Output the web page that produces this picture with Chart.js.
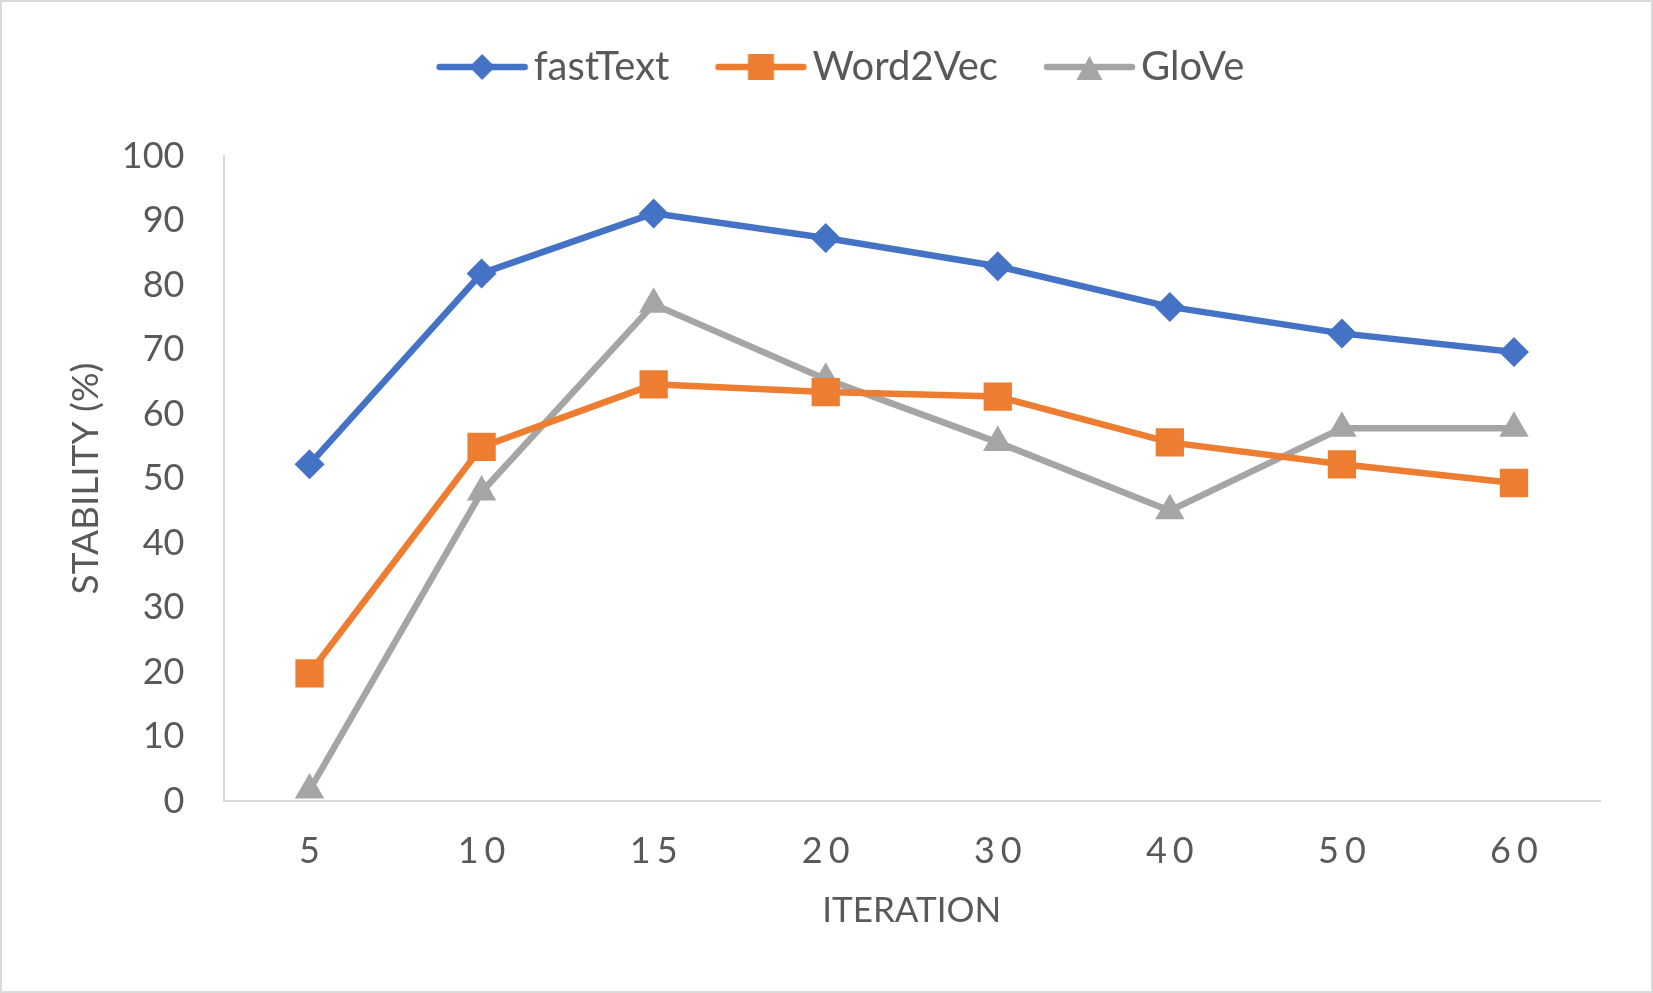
<!DOCTYPE html>
<html>
<head>
<meta charset="utf-8">
<script src="https://cdn.jsdelivr.net/npm/chart.js@4/dist/chart.umd.min.js"></script>
<style>
  html, body { margin: 0; padding: 0; background: #fff; }
  #wrap {
    width: 1653px; height: 993px; box-sizing: border-box;
    border: 2px solid #d9d9d9; background: #fff;
  }
  #chart { display: block; }
</style>
</head>
<body>
<div id="wrap"><canvas id="chart" width="1649" height="989"></canvas></div>
<script>
// values
const iterations = ['5', '10', '15', '20', '30', '40', '50', '60'];
const fastText = [52.2, 81.8, 91.1, 87.3, 82.9, 76.6, 72.5, 69.6];
const word2vec = [19.8, 54.9, 64.6, 63.4, 62.7, 55.6, 52.2, 49.3];
const glove = [1.7, 47.9, 77.0, 65.4, 55.6, 45.0, 57.8, 57.8];
const yTicks = [0, 10, 20, 30, 40, 50, 60, 70, 80, 90, 100];

const BLUE = '#4472C4';
const ORANGE = '#ED7D31';
const GRAY = '#A5A5A5';
const TEXT = '#595959';
const AXIS = '#d9d9d9';
const FONT = 'Lato, "Open Sans", sans-serif';

const PLOT_TOP = 154;
const LEGEND_TOP = 38;

// legend swatch: line with marker in the middle, like the office legend.
// the canvas is wider than the swatch so the line sits close to its text
function legendSwatch(color, shape) {
  const c = document.createElement('canvas');
  c.width = 146;
  c.height = 32;
  const g = c.getContext('2d');
  const x0 = 53, cx = x0 + 46.5;
  g.strokeStyle = color;
  g.fillStyle = color;
  g.lineWidth = 6.5;
  g.lineCap = 'round';
  g.beginPath();
  g.moveTo(x0 + 4, 16);
  g.lineTo(x0 + 89, 16);
  g.stroke();
  g.beginPath();
  if (shape === 'diamond') {
    g.moveTo(cx, 3); g.lineTo(cx + 13, 16); g.lineTo(cx, 29); g.lineTo(cx - 13, 16);
  } else if (shape === 'square') {
    g.rect(cx - 13, 3, 26, 26);
  } else {
    g.moveTo(cx, 5); g.lineTo(cx + 13, 29); g.lineTo(cx - 13, 29);
  }
  g.closePath();
  g.fill();
  return c;
}

const swatches = [
  legendSwatch(BLUE, 'diamond'),
  legendSwatch(ORANGE, 'square'),
  legendSwatch(GRAY, 'triangle')
];

// spread the x tick digits apart, and leave room under the legend
const tweaks = {
  id: 'tweaks',
  beforeLayout(chart) {
    const lg = chart.legend;
    if (lg && !lg._tall) {
      const fit = lg.fit;
      lg.fit = function () {
        fit.call(this);
        this.height = PLOT_TOP - LEGEND_TOP;
      };
      lg._tall = true;
    }
  },
  beforeDraw(chart) {
    const s = chart.scales.x;
    if (s._spaced) return;
    const orig = s.drawLabels;
    s.drawLabels = function (area) {
      const ctx = this.ctx;
      ctx.save();
      ctx.letterSpacing = '6px';
      ctx.translate(3, 0);
      orig.call(this, area);
      ctx.restore();
    };
    s._spaced = true;
  }
};

function series(label, data, color, style, radius) {
  return {
    label,
    data,
    borderColor: color,
    backgroundColor: color,
    borderWidth: 6.5,
    pointStyle: style,
    pointRadius: radius,
    pointHoverRadius: radius,
    pointBorderWidth: 0,
    tension: 0
  };
}

new Chart(document.getElementById('chart'), {
  type: 'line',
  data: {
    labels: iterations,
    datasets: [
      series('fastText', fastText, BLUE, 'rectRot', 15),
      series('Word2Vec', word2vec, ORANGE, 'rect', 20),
      series('GloVe', glove, GRAY, 'triangle', 17)
    ]
  },
  options: {
    responsive: false,
    animation: false,
    devicePixelRatio: 1,
    layout: { padding: { left: 40, right: 51, top: LEGEND_TOP, bottom: 40 } },
    plugins: {
      tooltip: { enabled: false },
      legend: {
        position: 'top',
        labels: {
          color: TEXT,
          font: { family: FONT, size: 40 },
          usePointStyle: true,
          pointStyleWidth: 116,
          padding: 7,
          generateLabels(chart) {
            const items = Chart.defaults.plugins.legend.labels.generateLabels(chart);
            items.forEach((it, i) => { it.pointStyle = swatches[i]; });
            return items;
          }
        }
      }
    },
    scales: {
      x: {
        offset: true,
        grid: { display: false, drawTicks: false },
        border: { display: true, color: AXIS, width: 2 },
        ticks: { color: TEXT, font: { family: FONT, size: 36 }, padding: 29, maxRotation: 0 },
        title: {
          display: true, text: 'ITERATION', color: TEXT,
          font: { family: FONT, size: 35 }, padding: { top: 0, bottom: 19 }
        },
        afterFit(scale) { scale.height = 150; }
      },
      y: {
        min: 0,
        max: 100,
        grid: { display: false, drawTicks: false },
        border: { display: true, color: AXIS, width: 2 },
        afterBuildTicks(scale) { scale.ticks = yTicks.map(v => ({ value: v })); },
        ticks: { color: TEXT, font: { family: FONT, size: 36 }, padding: 39 },
        title: {
          display: true, text: 'STABILITY (%)', color: TEXT,
          font: { family: FONT, size: 37 }, padding: { top: 22, bottom: 0 }
        },
        afterFit(scale) { scale.width = 221.5 - 40; }
      }
    }
  },
  plugins: [tweaks]
});
</script>
</body>
</html>
